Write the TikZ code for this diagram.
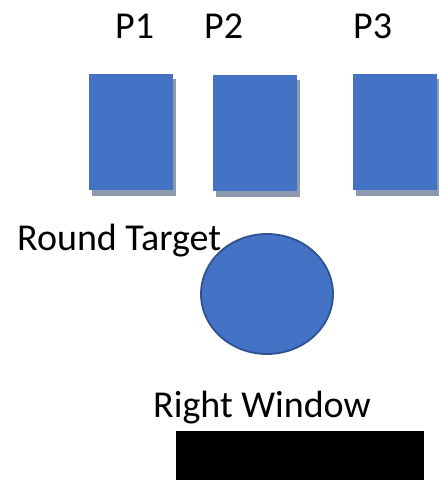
\documentclass[tikz,border=0pt]{standalone}
\usepackage{fontspec}
\setmainfont{Carlito}
\definecolor{boxblue}{HTML}{4472C4}
\definecolor{shadowgray}{HTML}{8E9AB0}
\definecolor{edgeblue}{HTML}{2F528F}
\begin{document}
\begin{tikzpicture}[x=1pt,y=-1pt,
  lbl/.style={font=\fontsize{38}{45}\selectfont, inner sep=0pt, anchor=base west},
  pbox/.style={fill=boxblue, draw=none},
  pshadow/.style={fill=shadowgray, draw=none}]
\useasboundingbox (0,0) rectangle (439,480);
% labels
\node[lbl] (l1) at (115,38) {P1};
\node[lbl] (l2) at (204,38) {P2};
\node[lbl] (l3) at (353,38) {P3};
% shadows
\fill[pshadow] (92,79) rectangle (176,196);
\fill[pshadow] (216,80) rectangle (300,197);
\fill[pshadow] (356,79) rectangle (439,196);
% boxes
\node[pbox, minimum width=84pt, minimum height=116pt, inner sep=0pt] (p1) at (131,132) {};
\node[pbox, minimum width=84pt, minimum height=116pt, inner sep=0pt] (p2) at (255,133) {};
\node[pbox, minimum width=84pt, minimum height=116pt, inner sep=0pt] (p3) at (395,132) {};
% target
\node[lbl] (rt) at (17,250) {Round Target};
\draw[fill=boxblue, draw=edgeblue, line width=1.8pt] (267,294) ellipse [x radius=66, y radius=60];
% window
\node[lbl] (rw) at (153,417) {Right Window};
\fill[black] (176,431) rectangle (424,480);
\end{tikzpicture}
\end{document}
